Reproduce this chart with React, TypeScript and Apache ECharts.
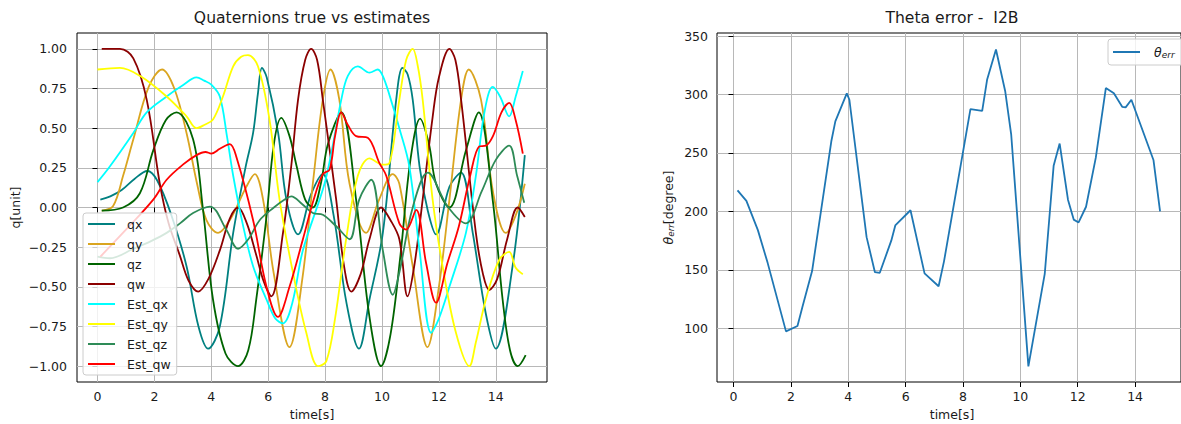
import React, { useEffect, useRef } from 'react';
import * as echarts from 'echarts';

// ---------- Left chart: quaternions (time [s], value) ----------
const qx = [[0.1,0.05],[0.45,0.07],[0.85,0.11],[1.3,0.18],[1.75,0.23],[2.1,0.17],[2.6,-0.05],[3.13,-0.37],[3.55,-0.75],[3.89,-0.89],[4.3,-0.75],[4.77,-0.16],[5.2,0.25],[5.47,0.47],[5.64,0.72],[5.78,0.88],[5.95,0.82],[6.35,0.47],[6.64,0.05],[7.05,-0.17],[7.5,0.08],[7.92,0.21],[8.3,-0.05],[8.75,-0.6],[9.19,-0.89],[9.56,-0.58],[10.03,-0.16],[10.5,0.68],[10.72,0.88],[10.9,0.84],[11.08,0.68],[11.32,0.26],[11.61,-0.02],[11.9,-0.17],[12.37,0.13],[12.78,0.22],[13.19,-0.16],[13.65,-0.67],[14.0,-0.89],[14.59,-0.37],[15.02,0.33]];
const qy = [[0.15,-0.02],[0.55,0.01],[0.9,0.2],[1.26,0.43],[1.8,0.76],[2.27,0.87],[2.7,0.75],[3.13,0.47],[3.5,0.15],[3.83,-0.08],[4.24,-0.16],[4.65,-0.08],[5.23,0.13],[5.53,0.21],[5.82,0.05],[6.2,-0.42],[6.75,-0.88],[7.2,-0.45],[7.6,0.2],[7.92,0.68],[8.19,0.87],[8.5,0.68],[8.86,0.15],[9.44,-0.16],[9.9,0.05],[10.38,0.21],[10.61,0.15],[11.08,-0.37],[11.6,-0.88],[12.0,-0.5],[12.37,0.05],[12.78,0.68],[13.05,0.87],[13.48,0.68],[13.9,0.1],[14.35,-0.16],[14.7,-0.05],[15.02,0.15]];
const qz = [[0.15,-0.02],[0.9,0.0],[1.49,0.09],[1.96,0.36],[2.4,0.55],[2.78,0.6],[3.36,0.43],[3.7,0.0],[4.06,-0.58],[4.5,-0.92],[4.94,-1.0],[5.3,-0.9],[5.58,-0.58],[5.94,-0.06],[6.2,0.4],[6.46,0.565],[6.75,0.45],[7.0,0.26],[7.3,0.05],[7.57,0.0],[7.85,0.15],[8.1,0.4],[8.57,0.6],[9.09,0.05],[9.56,-0.69],[9.97,-1.0],[10.3,-0.8],[10.65,-0.3],[11.0,0.3],[11.34,0.56],[11.65,0.4],[11.9,0.15],[12.37,0.0],[12.95,0.36],[13.4,0.6],[13.89,0.05],[14.24,-0.58],[14.5,-0.9],[14.77,-1.0],[15.05,-0.93]];
const qw = [[0.15,1.0],[0.79,1.0],[1.26,0.94],[1.73,0.68],[2.19,0.15],[2.5,-0.1],[2.89,-0.3],[3.2,-0.46],[3.54,-0.53],[3.9,-0.45],[4.3,-0.27],[4.65,-0.07],[4.94,0.0],[5.25,-0.1],[5.58,-0.3],[5.85,-0.47],[6.11,-0.56],[6.52,-0.16],[6.81,0.26],[7.05,0.68],[7.3,0.93],[7.51,1.0],[7.72,0.93],[7.92,0.68],[8.39,0.05],[8.65,-0.35],[8.92,-0.53],[9.25,-0.42],[9.56,-0.2],[9.97,0.0],[10.3,-0.08],[10.61,-0.2],[10.9,-0.56],[11.15,-0.35],[11.43,0.05],[11.78,0.57],[12.0,0.82],[12.37,1.0],[12.58,0.93],[12.78,0.68],[13.3,-0.16],[13.55,-0.42],[13.77,-0.52],[14.05,-0.45],[14.4,-0.2],[14.77,0.0],[15.02,-0.06]];
const estQx = [[0.0,0.16],[0.44,0.26],[1.26,0.47],[1.73,0.6],[2.43,0.70],[3.0,0.77],[3.48,0.82],[3.75,0.8],[4.0,0.775],[4.3,0.70],[4.55,0.45],[4.77,0.2],[5.1,-0.1],[5.47,-0.37],[5.94,-0.58],[6.25,-0.7],[6.52,-0.73],[6.85,-0.6],[7.22,-0.27],[7.98,0.15],[8.3,0.42],[8.57,0.68],[8.8,0.83],[9.15,0.89],[9.56,0.85],[9.85,0.87],[10.05,0.82],[10.38,0.64],[10.61,0.5],[10.96,0.26],[11.32,-0.27],[11.73,-0.79],[12.0,-0.7],[12.37,-0.5],[12.95,-0.16],[13.3,0.2],[13.6,0.6],[13.89,0.76],[14.15,0.7],[14.47,0.575],[14.7,0.7],[14.95,0.86]];
const estQy = [[0.0,0.87],[0.79,0.88],[1.49,0.83],[2.43,0.70],[3.13,0.575],[3.48,0.50],[3.75,0.52],[4.06,0.555],[4.41,0.70],[4.77,0.89],[5.05,0.95],[5.29,0.96],[5.64,0.89],[6.05,0.55],[6.4,0.05],[6.87,-0.41],[7.34,-0.79],[7.75,-1.0],[8.04,-0.97],[8.35,-0.7],[8.74,-0.2],[9.15,0.2],[9.56,0.31],[10.03,0.27],[10.26,0.28],[10.61,0.68],[10.85,0.93],[11.08,1.0],[11.25,0.9],[11.43,0.68],[11.78,0.05],[12.13,-0.37],[12.6,-0.79],[13.07,-1.0],[13.3,-0.85],[13.65,-0.58],[14.12,-0.33],[14.47,-0.28],[14.7,-0.38],[14.95,-0.42]];
const estQz = [[0.0,-0.31],[0.44,-0.32],[1.26,-0.26],[1.9,-0.21],[2.43,-0.16],[2.9,-0.1],[3.36,-0.035],[3.95,0.006],[4.53,-0.14],[4.94,-0.26],[5.3,-0.2],[5.7,-0.08],[6.2,0.0],[6.58,0.05],[6.81,0.07],[7.2,0.02],[7.57,-0.035],[7.92,-0.046],[8.4,-0.12],[8.86,-0.2],[9.2,0.05],[9.62,0.175],[10.03,-0.27],[10.38,-0.55],[10.61,-0.41],[11.08,0.0],[11.61,0.22],[12.31,0.006],[12.95,-0.1],[13.5,0.1],[14.0,0.3],[14.47,0.39],[14.75,0.2],[15.0,0.03]];
const estQw = [[0.1,-0.31],[1.0,-0.14],[1.96,0.05],[2.43,0.175],[3.0,0.27],[3.48,0.33],[3.8,0.35],[4.0,0.34],[4.3,0.37],[4.65,0.40],[4.88,0.32],[5.47,-0.08],[5.94,-0.5],[6.34,-0.69],[6.75,-0.5],[7.22,-0.2],[7.6,0.05],[7.92,0.21],[8.16,0.24],[8.35,0.45],[8.57,0.6],[8.8,0.52],[9.09,0.45],[9.5,0.44],[9.91,0.28],[10.15,0.2],[10.61,-0.1],[10.85,-0.14],[11.2,-0.015],[11.55,-0.35],[11.9,-0.6],[12.3,-0.35],[12.7,-0.12],[13.1,0.2],[13.42,0.385],[13.65,0.39],[13.9,0.45],[14.2,0.6],[14.47,0.66],[14.7,0.55],[14.95,0.34]];

const LEFT_NAMES = ['qx', 'qy', 'qz', 'qw', 'Est_qx', 'Est_qy', 'Est_qz', 'Est_qw'];
const LEFT_DATA = [qx, qy, qz, qw, estQx, estQy, estQz, estQw];
const LEFT_COLORS = ['#008080', '#DAA520', '#006400', '#8B0000', '#00FFFF', '#FFFF00', '#2E8B57', '#FF0000'];

// ---------- Right chart: theta error ----------
const thetaErr = [[0.14,218],[0.45,209],[0.85,184],[1.19,156],[1.83,97.4],[2.23,102],[2.4,118],[2.74,149],[3.41,260],[3.55,277],[3.95,301],[4.04,295.5],[4.64,178],[4.93,148],[5.1,147.5],[5.5,175],[5.64,188],[6.17,201],[6.66,147],[7.15,136],[7.34,157.5],[8.26,287.5],[8.67,286],[8.84,312.6],[9.15,338.5],[9.47,303],[9.68,266],[10.28,67.5],[10.85,146.5],[11.16,239],[11.37,258],[11.66,210],[11.86,193],[12.03,190.6],[12.29,204],[12.63,246],[12.98,305.5],[13.26,301],[13.55,289.5],[13.67,289],[13.87,295.5],[14.64,244],[14.87,200]];

const X_TICKS = [0, 2, 4, 6, 8, 10, 12, 14];
const Q_TICKS = [-1, -0.75, -0.5, -0.25, 0, 0.25, 0.5, 0.75, 1];
const THETA_TICKS = [100, 150, 200, 250, 300, 350];

const FONT = 'DejaVu Sans';
const FS = 12.5;
const TITLE_FS = 15.6;
const INK = '#1a1a1a';

function axisCommon(ticks: number[], fmt: (v: number) => string, margin: number) {
  return {
    axisLine: { show: false },
    axisTick: { show: true, inside: false, length: 5, lineStyle: { color: '#000', width: 1 }, customValues: ticks },
    axisLabel: { customValues: ticks, formatter: fmt, color: INK, fontSize: FS, fontFamily: FONT, margin },
    splitLine: { show: true, lineStyle: { color: '#b8b8b8', width: 1 } },
  };
}

export default function App() {
  const ref = useRef<HTMLDivElement>(null);
  useEffect(() => {
    if (!ref.current) return;
    const chart = echarts.init(ref.current, null, { renderer: 'svg' });
    const fmtQ = (v: number) => v.toFixed(2).replace('-', '\u2212');
    const fmtInt = (v: number) => String(Math.round(v));
    const legendCommon = {
      orient: 'vertical',
      icon: 'rect',
      itemWidth: 27,
      itemHeight: 2,
      itemGap: 6,
      backgroundColor: 'rgba(255,255,255,0.8)',
      borderColor: '#cccccc',
      borderWidth: 1,
      borderRadius: 3,
      selectedMode: false,
    };
    const option: any = {
      animation: false,
      grid: [
        { left: 77, top: 33, width: 470, height: 349, show: true, borderColor: '#000', borderWidth: 1, backgroundColor: 'transparent' },
        { left: 717, top: 33, width: 470, height: 349, show: true, borderColor: '#000', borderWidth: 1, backgroundColor: 'transparent' },
      ],
      xAxis: [
        { type: 'value', gridIndex: 0, min: -0.72, max: 15.8, ...axisCommon(X_TICKS, fmtInt, 8) },
        { type: 'value', gridIndex: 1, min: -0.575, max: 15.6, ...axisCommon(X_TICKS, fmtInt, 8) },
      ],
      yAxis: [
        { type: 'value', gridIndex: 0, min: -1.1, max: 1.1, ...axisCommon(Q_TICKS, fmtQ, 10) },
        { type: 'value', gridIndex: 1, min: 54.1, max: 352.6, ...axisCommon(THETA_TICKS, fmtInt, 9) },
      ],
      legend: [
        {
          ...legendCommon,
          left: 83,
          top: 213,
          padding: [4, 6, 4, 5],
          data: LEFT_NAMES,
          formatter: (name: string) => '{g|}' + name,
          textStyle: {
            fontSize: FS, fontFamily: FONT, color: INK, lineHeight: 14,
            rich: { g: { width: 7 } },
          },
        },
        {
          ...legendCommon,
          left: 1108,
          top: 39,
          padding: [5, 10, 5, 5],
          data: ['theta'],
          formatter: () => '{g|}{t|\u03B8}{s|err}',
          textStyle: {
            fontSize: FS, fontFamily: FONT, color: INK, lineHeight: 16,
            rich: {
              g: { width: 9 },
              t: { fontSize: FS, fontFamily: FONT, fontStyle: 'italic', color: INK },
              s: { fontSize: 9, fontFamily: FONT, fontStyle: 'italic', color: INK, padding: [6, 0, 0, 0] },
            },
          },
        },
      ],
      series: [
        ...LEFT_NAMES.map((name, i) => ({
          name,
          type: 'line',
          xAxisIndex: 0,
          yAxisIndex: 0,
          data: LEFT_DATA[i],
          smooth: 0.35,
          showSymbol: false,
          symbol: 'none',
          color: LEFT_COLORS[i],
          lineStyle: { color: LEFT_COLORS[i], width: 1.8 },
        })),
        {
          name: 'theta',
          type: 'line',
          xAxisIndex: 1,
          yAxisIndex: 1,
          data: thetaErr,
          showSymbol: false,
          symbol: 'none',
          color: '#1f77b4',
          lineStyle: { color: '#1f77b4', width: 1.8 },
        },
      ],
      graphic: [
        { type: 'text', x: 312, y: 18, style: { text: 'Quaternions true vs estimates', fontSize: TITLE_FS, fontFamily: FONT, fill: INK, align: 'center', verticalAlign: 'middle' } },
        { type: 'text', x: 952, y: 18, style: { text: 'Theta error -  I2B', fontSize: TITLE_FS, fontFamily: FONT, fill: INK, align: 'center', verticalAlign: 'middle' } },
        { type: 'text', x: 312, y: 414, style: { text: 'time[s]', fontSize: FS, fontFamily: FONT, fill: INK, align: 'center', verticalAlign: 'middle' } },
        { type: 'text', x: 952, y: 414, style: { text: 'time[s]', fontSize: FS, fontFamily: FONT, fill: INK, align: 'center', verticalAlign: 'middle' } },
        { type: 'text', x: 15, y: 207.5, rotation: Math.PI / 2, style: { text: 'q[unit]', fontSize: FS, fontFamily: FONT, fill: INK, align: 'center', verticalAlign: 'middle' } },
        {
          type: 'text', x: 668, y: 207.5, rotation: Math.PI / 2,
          style: {
            text: '{t|\u03B8}{s|err}{n|[degree]}', fontSize: FS, fontFamily: FONT, fill: INK, align: 'center', verticalAlign: 'middle',
            rich: {
              t: { fontSize: FS, fontFamily: FONT, fontStyle: 'italic', fill: INK },
              s: { fontSize: 8.8, fontFamily: FONT, fontStyle: 'italic', fill: INK, padding: [6, 0, 0, 0] },
              n: { fontSize: FS, fontFamily: FONT, fill: INK },
            },
          },
        },
      ],
    };
    chart.setOption(option);
    return () => chart.dispose();
  }, []);
  return (
    <div style={{ position: 'absolute', left: 0, top: 0, width: 1181, height: 424, overflow: 'hidden', background: '#fff' }}>
      <div ref={ref} style={{ width: 1181, height: 424 }} />
    </div>
  );
}
